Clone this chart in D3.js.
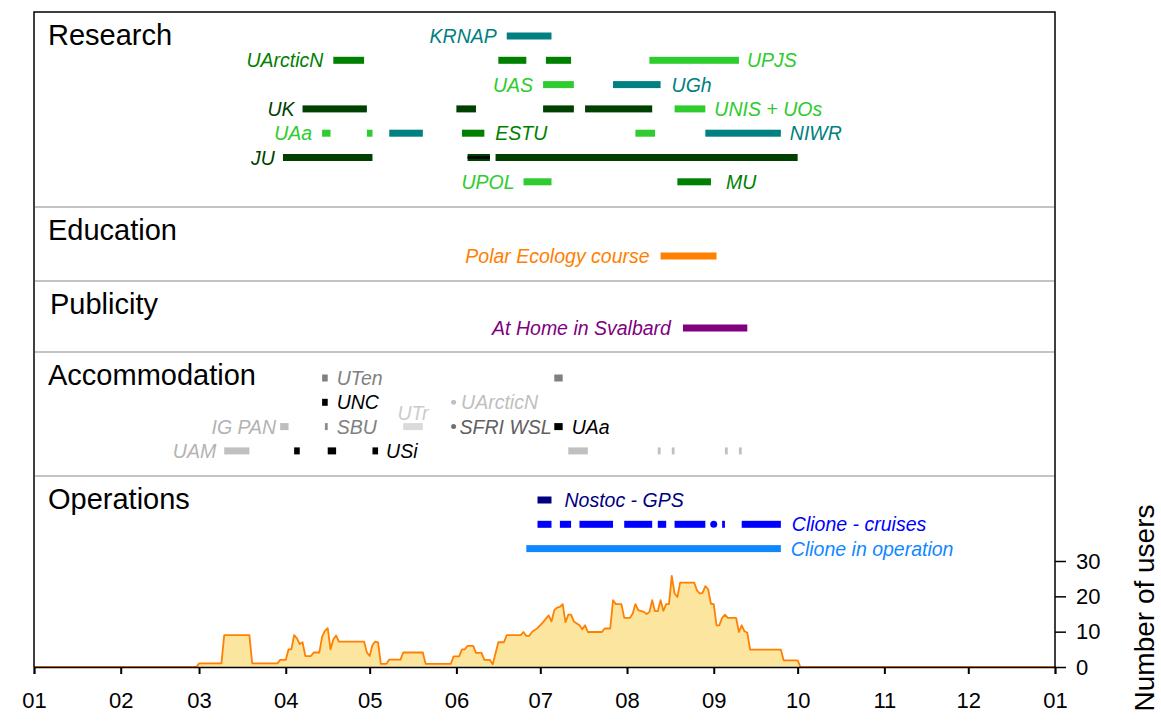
<!DOCTYPE html>
<html>
<head>
<meta charset="utf-8">
<script src="https://cdn.jsdelivr.net/npm/d3@7"></script>
<style>
  body { margin: 0; background: #fff; }
  text { font-family: "Liberation Sans", Arial, sans-serif; }
</style>
</head>
<body>
<script>
// ---- data ----
const year = 2021;
const panels = ["Research", "Education", "Publicity", "Accommodation", "Operations"];

// periods are [start, end] as MM-DD, a single date is a one-off visit (dot)
const series = [
  { panel: "Research", row: 0, name: "KRNAP", periods: [["06-19", "07-05"]] },
  { panel: "Research", row: 1, name: "UArcticN", periods: [["04-18", "04-29"], ["06-16", "06-26"], ["07-03", "07-12"]] },
  { panel: "Research", row: 1, name: "UPJS", periods: [["08-09", "09-10"]] },
  { panel: "Research", row: 2, name: "UAS", periods: [["07-02", "07-13"]] },
  { panel: "Research", row: 2, name: "UGh", periods: [["07-27", "08-13"]] },
  { panel: "Research", row: 3, name: "UK", periods: [["04-07", "04-30"], ["06-01", "06-08"], ["07-02", "07-13"], ["07-17", "08-10"]] },
  { panel: "Research", row: 3, name: "UNIS + UOs", periods: [["08-18", "08-29"]] },
  { panel: "Research", row: 4, name: "UAa", periods: [["04-14", "04-17"], ["04-30", "05-02"], ["08-04", "08-11"]] },
  { panel: "Research", row: 4, name: "ESTU", periods: [["06-03", "06-11"]] },
  { panel: "Research", row: 4, name: "NIWR", periods: [["05-08", "05-20"], ["08-29", "09-25"]] },
  { panel: "Research", row: 5, name: "JU", periods: [["03-31", "05-02"], ["06-05", "06-13"], ["06-15", "10-01"]] },
  { panel: "Research", row: 5, name: "(JU)", periods: [["06-05", "06-13"]] },
  { panel: "Research", row: 6, name: "UPOL", periods: [["06-25", "07-05"]] },
  { panel: "Research", row: 6, name: "MU", periods: [["08-19", "08-31"]] },

  { panel: "Education", row: 0, name: "Polar Ecology course", periods: [["08-13", "09-02"]] },
  { panel: "Publicity", row: 0, name: "At Home in Svalbard", periods: [["08-21", "09-13"]] },

  { panel: "Accommodation", row: 0, name: "UTen", periods: [["04-14", "04-16"], ["07-06", "07-09"]] },
  { panel: "Accommodation", row: 1, name: "UNC", periods: [["04-14", "04-16"]] },
  { panel: "Accommodation", row: 1, name: "UArcticN", periods: [["05-31"]] },
  { panel: "Accommodation", row: 2, name: "IG PAN", periods: [["03-30", "04-02"]] },
  { panel: "Accommodation", row: 2, name: "SBU", periods: [["04-15", "04-16"]] },
  { panel: "Accommodation", row: 2, name: "UTr", periods: [["05-13", "05-20"]] },
  { panel: "Accommodation", row: 2, name: "SFRI WSL", periods: [["05-31"]] },
  { panel: "Accommodation", row: 2, name: "UAa", periods: [["07-06", "07-09"]] },
  { panel: "Accommodation", row: 3, name: "UAM", periods: [["03-10", "03-19"], ["07-11", "07-18"], ["08-12", "08-13"], ["08-17", "08-18"], ["09-05", "09-06"], ["09-10", "09-11"]] },
  { panel: "Accommodation", row: 3, name: "USi", periods: [["04-04", "04-06"], ["04-16", "04-19"], ["05-02", "05-04"]] },

  { panel: "Operations", row: 0, name: "Nostoc - GPS", periods: [["06-30", "07-05"]] },
  { panel: "Operations", row: 1, name: "Clione - cruises", periods: [["06-30", "07-05"], ["07-08", "07-12"], ["07-15", "07-27"], ["07-31", "08-10"], ["08-12", "08-15"], ["08-18", "08-29"], ["09-01"], ["09-04", "09-05"], ["09-11", "09-25"]] },
  { panel: "Operations", row: 2, name: "Clione in operation", periods: [["06-26", "09-25"]] }
];

// number of users: [day of year (0 = 1 Jan), users]
const usersByDay = [
  [0, 0], [58, 0], [59, 1], [67, 1], [68, 9], [77, 9], [78, 1], [87, 1], [88, 2], [90, 2],
  [91, 5], [92, 5], [93, 9], [94, 8.1], [95, 6.5], [96, 7], [97, 3.1], [99, 3.1], [100, 4.1], [102, 4.1],
  [103, 8.6], [104, 10.2], [105, 11], [106, 5], [107, 7.8], [108, 8.9], [109, 7.2], [118, 7.2], [119, 4.1], [120, 3.1],
  [121, 6.2], [122, 7.2], [123, 7], [124, 0.9], [126, 0.9], [127, 2.1], [131, 2.1], [132, 4.1], [139, 4.1], [140, 0.9],
  [149, 0.9], [150, 3], [152, 3], [153, 5], [154, 5], [155, 6], [157, 6], [158, 4], [160, 4], [161, 2],
  [163, 2], [164, 0.8], [166, 7], [168, 7], [169, 9], [174, 9], [175, 9.9], [176, 8.8], [177, 8.8], [178, 9.9],
  [180, 11], [182, 12.7], [184, 14.6], [185, 12.9], [186, 16.1], [187, 16.8], [188, 17], [189, 17.8], [190, 12.7], [191, 14.8],
  [192, 14.8], [193, 12.9], [195, 11.8], [196, 10.7], [197, 11.8], [198, 9.9], [203, 9.9], [204, 10.9], [206, 10.9], [207, 18.9],
  [208, 17.8], [210, 17.8], [211, 13.9], [213, 13.9], [214, 15.1], [215, 17.8], [216, 16.1], [218, 15.6], [219, 15], [220, 15.6],
  [221, 18.9], [222, 15.8], [223, 15.8], [224, 18.9], [225, 15.9], [226, 17.8], [227, 17.8], [228, 25.8], [229, 20.8], [230, 19.8],
  [231, 23.9], [236, 23.9], [237, 21.7], [238, 20.8], [239, 21], [240, 22.9], [241, 22], [242, 17.9], [243, 17.8], [244, 11.8],
  [245, 11.8], [246, 13.9], [247, 14.8], [248, 13.9], [251, 13.9], [252, 9.9], [253, 11.8], [254, 10.1], [255, 9.7], [256, 4.9],
  [267, 4.9], [268, 1.9], [273, 1.9], [274, 0], [365, 0]
];
const userTicks = [0, 10, 20, 30];

// ---- styles ----
const teal = "#008080", dark = "#004000", mid = "#008000", light = "#2ecc2e";
const styles = {
  "Research:KRNAP": { color: teal, side: "left", gap: 10 },
  "Research:UArcticN": { color: mid, side: "left", gap: 10 },
  "Research:UPJS": { color: light, side: "right", gap: 8 },
  "Research:UAS": { color: light, side: "left", gap: 10 },
  "Research:UGh": { color: teal, side: "right", gap: 11 },
  "Research:UK": { color: dark, side: "left", gap: 8 },
  "Research:UNIS + UOs": { color: light, side: "right", gap: 9 },
  "Research:UAa": { color: light, side: "left", gap: 10 },
  "Research:ESTU": { color: mid, side: "right", gap: 11 },
  "Research:NIWR": { color: teal, side: "right", gap: 9 },
  "Research:JU": { color: dark, side: "left", gap: 8 },
  "Research:(JU)": { color: "#000", side: "none", h: 2.5 },
  "Research:UPOL": { color: light, side: "left", gap: 9 },
  "Research:MU": { color: mid, side: "right", gap: 15 },
  "Education:Polar Ecology course": { color: "#ff8000", side: "left", gap: 11 },
  "Publicity:At Home in Svalbard": { color: "#800080", side: "left", gap: 12 },
  "Accommodation:UTen": { color: "#808080", side: "rightOfFirst", gap: 9 },
  "Accommodation:UNC": { color: "#000", side: "right", gap: 9 },
  "Accommodation:UArcticN": { color: "#c0c0c0", side: "right", gap: 5, r: 2.5 },
  "Accommodation:IG PAN": { color: "#bdbdbd", text: "#b3b3b3", side: "left", gap: 4 },
  "Accommodation:SBU": { color: "#8c8c8c", text: "#808080", side: "right", gap: 9 },
  "Accommodation:UTr": { color: "#dadada", text: "#cccccc", side: "above" },
  "Accommodation:SFRI WSL": { color: "#707070", text: "#606060", side: "right", gap: 3.5, r: 2.5 },
  "Accommodation:UAa": { color: "#000", side: "right", gap: 9 },
  "Accommodation:UAM": { color: "#c0c0c0", text: "#b3b3b3", side: "left", gap: 8 },
  "Accommodation:USi": { color: "#000", side: "right", gap: 8 },
  "Operations:Nostoc - GPS": { color: "#000080", side: "right", gap: 13 },
  "Operations:Clione - cruises": { color: "#0000ff", side: "right", gap: 11, r: 3.5 },
  "Operations:Clione in operation": { color: "#1187ff", side: "right", gap: 10 }
};

// panel layout
const layout = {
  Research: { top: 12, first: 24 },
  Education: { top: 207, first: 49 },
  Publicity: { top: 281, first: 47 },
  Accommodation: { top: 352, first: 26 },
  Operations: { top: 476, first: 24 }
};
const rowStep = 24.3;
const barH = 7;
const plotLeft = 34, plotRight = 1055, plotTop = 12, plotBottom = 667;

// ---- chart ----
const parse = d3.timeParse("%Y-%m-%d");
const toDate = s => parse(year + "-" + s);
const yearStart = new Date(year, 0, 1);
const yearEnd = new Date(year + 1, 0, 1);

const x = d3.scaleTime().domain([yearStart, yearEnd]).range([plotLeft, plotRight]);
const y = d3.scaleLinear().domain([0, 30]).range([plotBottom, 561]);
const rowY = (panel, row) => layout[panel].top + layout[panel].first + row * rowStep;

const svg = d3.select("body").append("svg")
  .attr("width", 1161)
  .attr("height", 722);

// users area
const users = usersByDay.map(d => ({ date: d3.timeDay.offset(yearStart, d[0]), value: d[1] }));

svg.append("path")
  .datum(users)
  .attr("fill", "#fce59f")
  .attr("d", d3.area().x(d => x(d.date)).y0(y(0)).y1(d => y(d.value)));

svg.append("path")
  .datum(users)
  .attr("fill", "none")
  .attr("stroke", "#ff8000")
  .attr("stroke-width", 1.8)
  .attr("stroke-linejoin", "round")
  .attr("d", d3.line().x(d => x(d.date)).y(d => y(d.value)));

// panel separators and titles
panels.forEach((p, i) => {
  if (i > 0) {
    svg.append("line")
      .attr("x1", plotLeft + 1).attr("x2", plotRight - 1)
      .attr("y1", layout[p].top).attr("y2", layout[p].top)
      .attr("stroke", "#c4c4c4")
      .attr("stroke-width", 2);
  }
  svg.append("text")
    .attr("x", p === "Publicity" ? 50 : 48)
    .attr("y", layout[p].top + 33)
    .attr("font-size", 29)
    .attr("fill", "#000")
    .text(p);
});

// bars, marks and labels
series.forEach(s => {
  const st = styles[s.panel + ":" + s.name];
  const cy = rowY(s.panel, s.row);
  const h = st.h || barH;
  const r = st.r || 2.5;
  const g = svg.append("g");

  s.periods.forEach(p => {
    if (p.length === 1) {
      g.append("circle")
        .attr("cx", x(toDate(p[0])))
        .attr("cy", cy)
        .attr("r", r)
        .attr("fill", st.color);
    } else {
      const x0 = x(toDate(p[0])), x1 = x(toDate(p[1]));
      g.append("rect")
        .attr("x", x0)
        .attr("y", cy - h / 2)
        .attr("width", x1 - x0)
        .attr("height", h)
        .attr("fill", st.color);
    }
  });

  if (st.side === "none") return;

  const edge = (p, side) => {
    if (p.length === 1) return x(toDate(p[0])) + (side === "right" ? r : -r);
    return x(toDate(side === "right" ? p[1] : p[0]));
  };
  const first = s.periods[0];
  const last = s.periods[s.periods.length - 1];
  let lx, ly = cy, anchor;
  if (st.side === "left") { lx = edge(first, "left") - st.gap; anchor = "end"; }
  else if (st.side === "right") { lx = edge(last, "right") + st.gap; anchor = "start"; }
  else if (st.side === "rightOfFirst") { lx = edge(first, "right") + st.gap; anchor = "start"; }
  else { lx = (x(toDate(first[0])) + x(toDate(first[1]))) / 2; ly = cy - 14; anchor = "middle"; }

  g.append("text")
    .attr("x", lx)
    .attr("y", ly)
    .attr("dy", "0.36em")
    .attr("text-anchor", anchor)
    .attr("font-size", 19.5)
    .attr("font-style", "italic")
    .attr("fill", st.text || st.color)
    .text(s.name);
});

// frame
svg.append("path")
  .attr("d", `M${plotLeft},${plotBottom}V${plotTop}H${plotRight}V${plotBottom}`)
  .attr("fill", "none")
  .attr("stroke", "#000")
  .attr("stroke-width", 1.5);

// month axis
const xAxis = svg.append("g")
  .attr("transform", `translate(0,${plotBottom})`)
  .call(d3.axisBottom(x)
    .ticks(d3.timeMonth.every(1))
    .tickFormat(d3.timeFormat("%m"))
    .tickSize(7)
    .tickPadding(18));
xAxis.select(".domain").attr("stroke-width", 1.5);
xAxis.selectAll(".tick line").attr("stroke-width", 2);
xAxis.selectAll("text").attr("font-size", 22).attr("font-family", "Liberation Sans, Arial, sans-serif");

// users axis on the right
const yAxis = svg.append("g")
  .attr("transform", `translate(${plotRight},0)`)
  .call(d3.axisRight(y)
    .tickValues(userTicks)
    .tickSize(11)
    .tickPadding(10));
yAxis.select(".domain").remove();
yAxis.selectAll(".tick line").attr("stroke-width", 1.5);
yAxis.selectAll("text").attr("font-size", 22).attr("font-family", "Liberation Sans, Arial, sans-serif");

svg.append("text")
  .attr("transform", "translate(1154,608) rotate(-90)")
  .attr("text-anchor", "middle")
  .attr("font-size", 28)
  .text("Number of users");
</script>
</body>
</html>
